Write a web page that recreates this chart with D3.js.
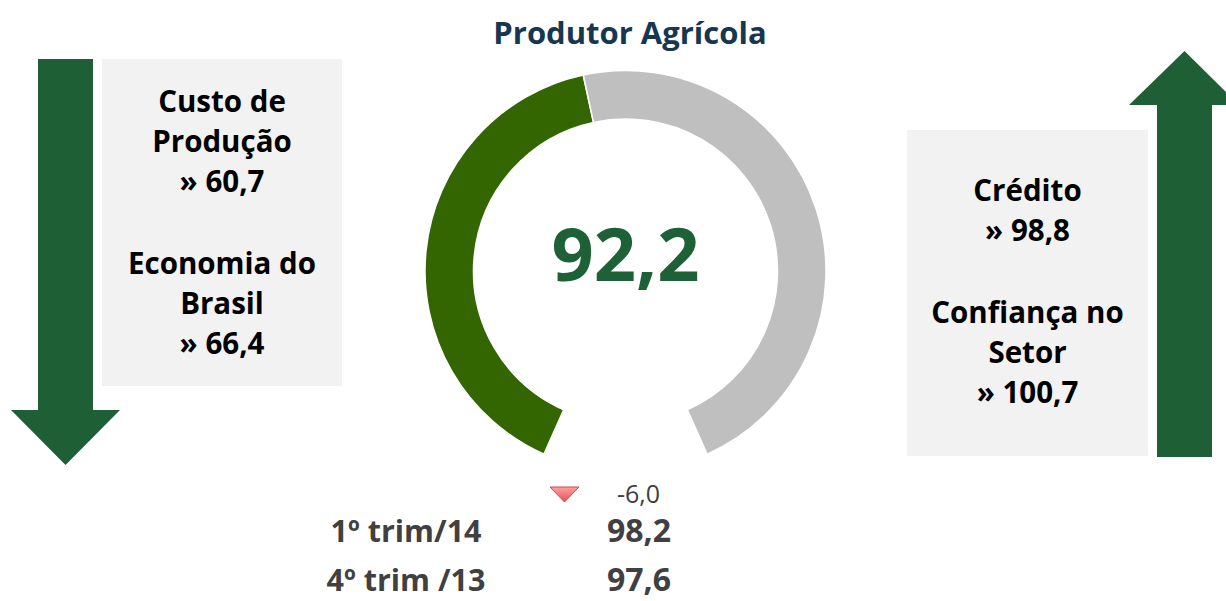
<!DOCTYPE html>
<html>
<head>
<meta charset="utf-8">
<script src="https://cdn.jsdelivr.net/npm/d3@7"></script>
<style>
  html, body { margin: 0; padding: 0; background: #fff; }
  svg { display: block; font-family: "Open Sans", Lato, sans-serif; }
</style>
</head>
<body>
<div id="chart"></div>
<script>
// gauge data
const title = "Produtor Agrícola";
const gaugeValue = 92.2;
const gaugeMax = 200;
const changeValue = -6.0;

// previous periods
const periodLabels = ["1º trim/14", "4º trim /13"];
const periodValues = [98.2, 97.6];

// components falling / rising
const downLabels = [["Custo de", "Produção"], ["Economia do", "Brasil"]];
const downValues = [60.7, 66.4];
const upLabels = [["Crédito"], ["Confiança no", "Setor"]];
const upValues = [98.8, 100.7];

const width = 1226, height = 601;
const ptBR = d3.formatLocale({ decimal: ",", thousands: ".", grouping: [3], currency: ["R$", ""], minus: "-" });
const fmt = ptBR.format(".1f");

const svg = d3.select("#chart")
    .append("svg")
    .attr("width", width)
    .attr("height", height);

const defs = svg.append("defs");
const grad = defs.append("linearGradient")
    .attr("id", "tri-grad")
    .attr("x1", "0%").attr("x2", "0%").attr("y1", "0%").attr("y2", "100%");
grad.append("stop").attr("offset", "0%").attr("stop-color", "#ff9f9f");
grad.append("stop").attr("offset", "100%").attr("stop-color", "#e05454");

// title
svg.append("text")
    .attr("x", 630)
    .attr("y", 44)
    .attr("text-anchor", "middle")
    .style("font-size", "31px")
    .style("font-weight", "bold")
    .style("fill", "#17364f")
    .text(title);

// gauge
const cx = 625.5, cy = 271;
const angle = d3.scaleLinear()
    .domain([0, gaugeMax])
    .range([-156 * Math.PI / 180, 156 * Math.PI / 180]);

const arc = d3.arc()
    .innerRadius(152)
    .outerRadius(200.5);

const gauge = svg.append("g").attr("transform", `translate(${cx},${cy})`);
const segments = [
    { from: 0, to: gaugeValue, color: "#336600" },
    { from: gaugeValue, to: gaugeMax, color: "#bfbfbf" }
];
gauge.selectAll("path")
    .data(segments)
    .enter()
    .append("path")
    .attr("d", d => arc({ startAngle: angle(d.from), endAngle: angle(d.to) }))
    .attr("fill", d => d.color)
    .attr("stroke", "#fff")
    .attr("stroke-width", 1.5);

gauge.append("text")
    .attr("x", 0)
    .attr("y", 10)
    .attr("text-anchor", "middle")
    .style("font-size", "74px")
    .style("font-weight", "bold")
    .style("fill", "#1f6137")
    .text(fmt(gaugeValue));

// change indicator
svg.append("path")
    .attr("d", "M550,487 L579,487 L564.5,502 Z")
    .attr("fill", "url(#tri-grad)")
    .attr("stroke", "#c0504d")
    .attr("stroke-width", 1);

svg.append("text")
    .attr("x", 617)
    .attr("y", 503)
    .style("font-size", "25px")
    .style("fill", "#404040")
    .text(fmt(changeValue));

// previous periods table
const rowY = d3.scalePoint().domain(periodLabels).range([542, 591]);
periodLabels.forEach((lab, i) => {
    svg.append("text")
        .attr("x", 406)
        .attr("y", rowY(lab))
        .attr("text-anchor", "middle")
        .style("font-size", "30.5px")
        .style("font-weight", "bold")
        .style("fill", "#404040")
        .text(lab);
    svg.append("text")
        .attr("x", 671)
        .attr("y", rowY(lab))
        .attr("text-anchor", "end")
        .style("font-size", "32px")
        .style("font-weight", "bold")
        .style("fill", "#404040")
        .text(fmt(periodValues[i]));
});

// arrows
const arrowColor = "#1f5f36";
// down arrow (shaft 38..93, head 11..120)
svg.append("path")
    .attr("d", "M38,59 L93,59 L93,410 L120,410 L65.5,465 L11,410 L38,410 Z")
    .attr("fill", arrowColor);
// up arrow (shaft 1157..1212, head 1129..1239)
svg.append("path")
    .attr("d", "M1157,457 L1212,457 L1212,105 L1239,105 L1184.5,51 L1129,105 L1157,105 Z")
    .attr("fill", arrowColor);

// text boxes
function textBox(x, y, w, h, labels, values, startY) {
    svg.append("rect")
        .attr("x", x).attr("y", y)
        .attr("width", w).attr("height", h)
        .attr("fill", "#f2f2f2");
    const lineH = 40;
    let yy = startY;
    labels.forEach((lines, i) => {
        const rows = lines.concat(["» " + fmt(values[i])]);
        rows.forEach(r => {
            svg.append("text")
                .attr("x", x + w / 2)
                .attr("y", yy)
                .attr("text-anchor", "middle")
                .style("font-size", "29.5px")
                .style("font-weight", "bold")
                .style("fill", "#000")
                .text(r);
            yy += lineH;
        });
        yy += 42;
    });
}

textBox(102, 59, 240, 327, downLabels, downValues, 112);
textBox(907, 130, 241, 326, upLabels, upValues, 201);
</script>
</body>
</html>
